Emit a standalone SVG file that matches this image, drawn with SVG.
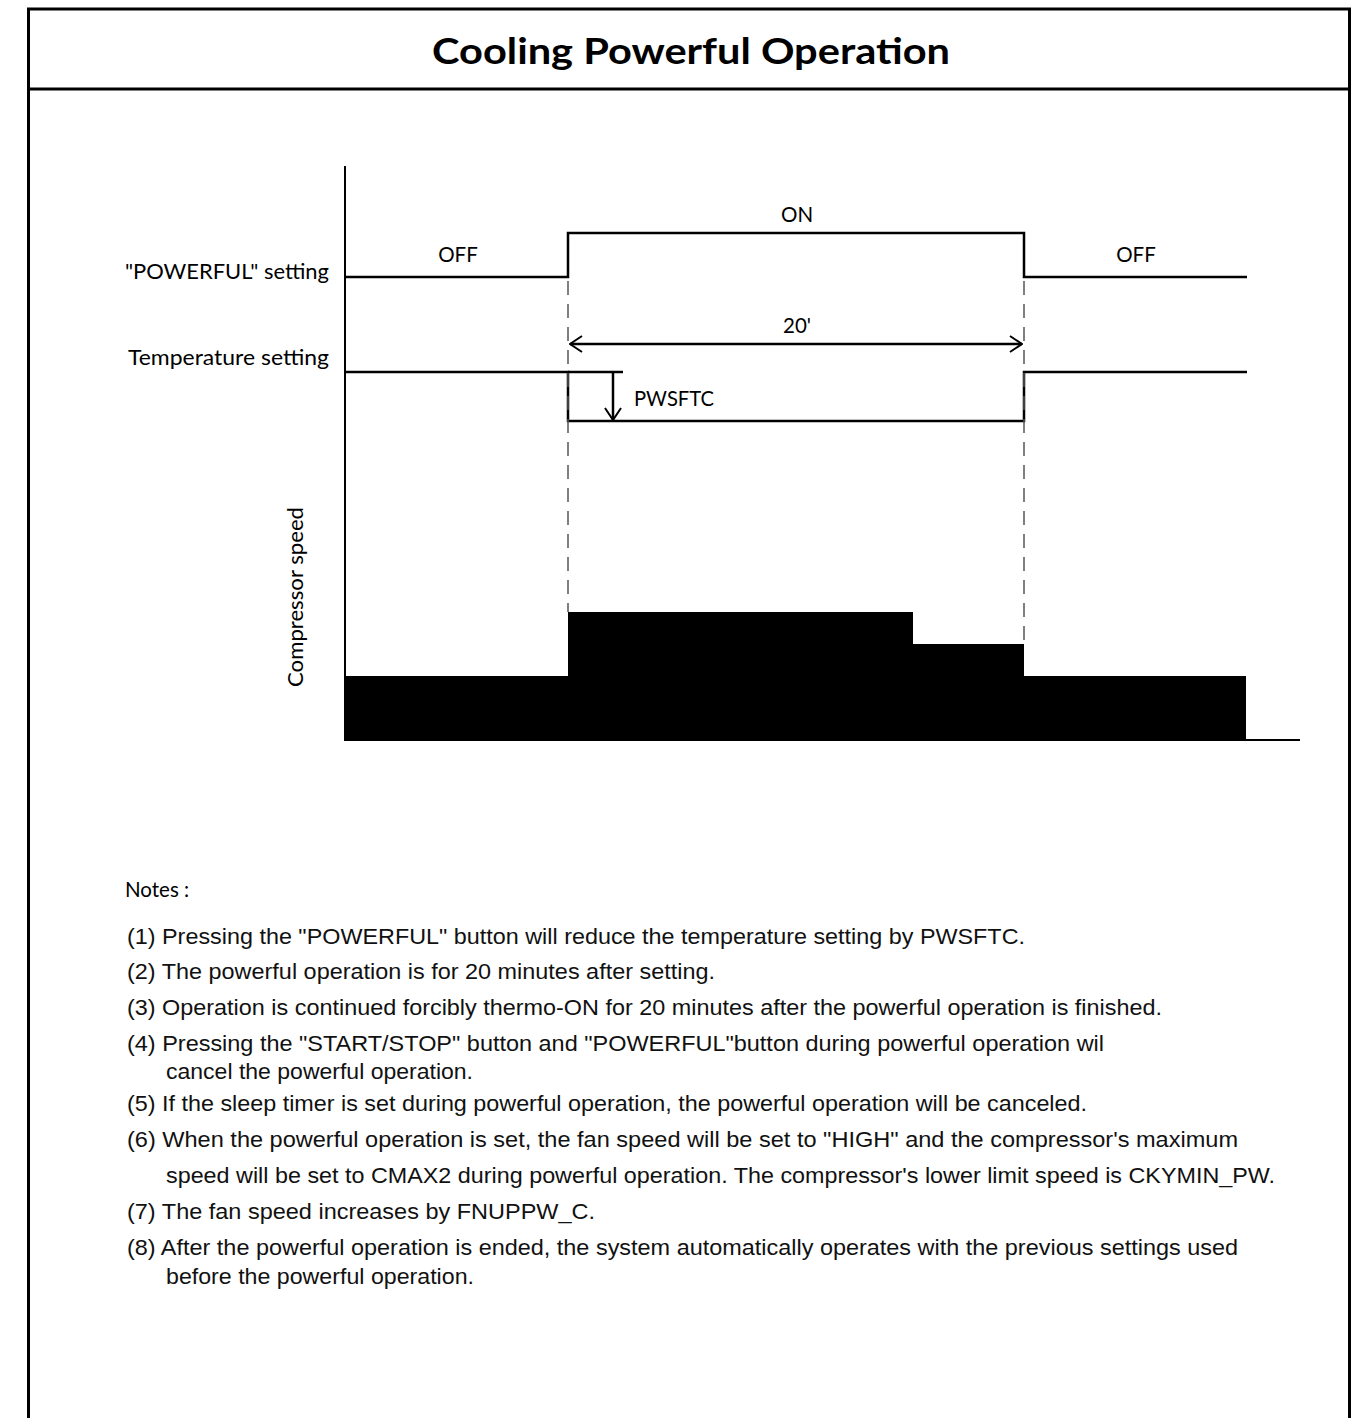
<svg xmlns="http://www.w3.org/2000/svg" width="1360" height="1418" viewBox="0 0 1360 1418">
<style>
.frame{fill:none;stroke:#000;stroke-width:3}
.sig{fill:none;stroke:#000;stroke-width:2.5;stroke-linejoin:miter}
.dash{fill:none;stroke:#555;stroke-width:1.5;stroke-dasharray:14 9}
.axis{fill:none;stroke:#000;stroke-width:2}
.lbl{font-family:Lato,"Open Sans",sans-serif;font-size:20.5px;fill:#000}
.title{font-family:Lato,"Liberation Sans",sans-serif;font-size:37px;font-weight:bold;fill:#000}
.note{font-family:"Liberation Sans",Arial,sans-serif;font-size:21.5px;fill:#111}
</style>
<defs>
<marker id="open" viewBox="0 0 14 18" refX="13" refY="9" markerWidth="14" markerHeight="18" markerUnits="userSpaceOnUse" orient="auto-start-reverse">
<path d="M1,1 L13,9 L1,17" fill="none" stroke="#000" stroke-width="2"/>
</marker>
</defs>
<rect width="1360" height="1418" fill="#fff"/>
<g id="frame">
<rect class="frame" x="28.5" y="9" width="1321" height="1430"/>
<line class="frame" x1="28.5" y1="89" x2="1349.5" y2="89"/>
<text class="title" x="691" y="64" text-anchor="middle" textLength="518" lengthAdjust="spacingAndGlyphs">Cooling Powerful Operation</text>
</g>
<g id="axes">
<line class="axis" x1="345" y1="166" x2="345" y2="741"/>
<line class="axis" x1="345" y1="740" x2="1300" y2="740"/>
</g>
<g id="labels">
<text class="lbl" x="329" y="279" text-anchor="end" textLength="204" lengthAdjust="spacingAndGlyphs">"POWERFUL" setting</text>
<text class="lbl" x="329" y="365" text-anchor="end" textLength="201" lengthAdjust="spacingAndGlyphs">Temperature setting</text>
<text class="lbl" transform="translate(303,597) rotate(-90)" text-anchor="middle" textLength="180" lengthAdjust="spacingAndGlyphs">Compressor speed</text>
</g>
<g id="powerful-signal">
<polyline class="sig" points="345,277 568,277 568,233 1024,233 1024,277 1247,277"/>
<text class="lbl" x="458" y="262" text-anchor="middle">OFF</text>
<text class="lbl" x="797" y="222" text-anchor="middle">ON</text>
<text class="lbl" x="1136" y="262" text-anchor="middle">OFF</text>
</g>
<g id="temperature-signal">
<polyline class="sig" points="345,372 568,372 568,421 1024,421 1024,372 1247,372"/>
<line class="sig" x1="568" y1="372" x2="623" y2="372"/>
<text class="lbl" x="634" y="406" textLength="80" lengthAdjust="spacingAndGlyphs">PWSFTC</text>
</g>
<g id="compressor-speed">
<polygon points="345,676 568,676 568,612 913,612 913,644 1024,644 1024,676 1246,676 1246,740 345,740" fill="#000"/>
</g>
<g id="connectors">
<line class="dash" x1="568" y1="281" x2="568" y2="612"/>
<line class="dash" x1="1024" y1="281" x2="1024" y2="644"/>
<line class="sig" x1="570" y1="344" x2="1022" y2="344" marker-start="url(#open)" marker-end="url(#open)"/>
<line class="sig" x1="613" y1="372" x2="613" y2="420" marker-end="url(#open)"/>
<text class="lbl" x="797" y="333" text-anchor="middle">20'</text>
</g>
<g id="notes">
<text class="lbl" x="125" y="897" font-size="21">Notes :</text>
<text class="note" x="127" y="944" textLength="898" lengthAdjust="spacingAndGlyphs">(1) Pressing the "POWERFUL" button will reduce the temperature setting by PWSFTC.</text>
<text class="note" x="127" y="979" textLength="588" lengthAdjust="spacingAndGlyphs">(2) The powerful operation is for 20 minutes after setting.</text>
<text class="note" x="127" y="1015" textLength="1035" lengthAdjust="spacingAndGlyphs">(3) Operation is continued forcibly thermo-ON for 20 minutes after the powerful operation is finished.</text>
<text class="note" x="127" y="1051" textLength="977" lengthAdjust="spacingAndGlyphs">(4) Pressing the "START/STOP" button and "POWERFUL"button during powerful operation wil</text>
<text class="note" x="166" y="1079" textLength="307" lengthAdjust="spacingAndGlyphs">cancel the powerful operation.</text>
<text class="note" x="127" y="1111" textLength="960" lengthAdjust="spacingAndGlyphs">(5) If the sleep timer is set during powerful operation, the powerful operation will be canceled.</text>
<text class="note" x="127" y="1147" textLength="1111" lengthAdjust="spacingAndGlyphs">(6) When the powerful operation is set, the fan speed will be set to "HIGH" and  the compressor's maximum</text>
<text class="note" x="166" y="1183" textLength="1109" lengthAdjust="spacingAndGlyphs">speed will be set to CMAX2 during powerful operation. The compressor's lower limit speed is CKYMIN_PW.</text>
<text class="note" x="127" y="1219" textLength="468" lengthAdjust="spacingAndGlyphs">(7) The fan speed increases by FNUPPW_C.</text>
<text class="note" x="127" y="1255" textLength="1111" lengthAdjust="spacingAndGlyphs">(8) After the powerful operation is ended, the system automatically operates with the previous settings used</text>
<text class="note" x="166" y="1284" textLength="308" lengthAdjust="spacingAndGlyphs">before the powerful operation.</text>
</g>
</svg>
